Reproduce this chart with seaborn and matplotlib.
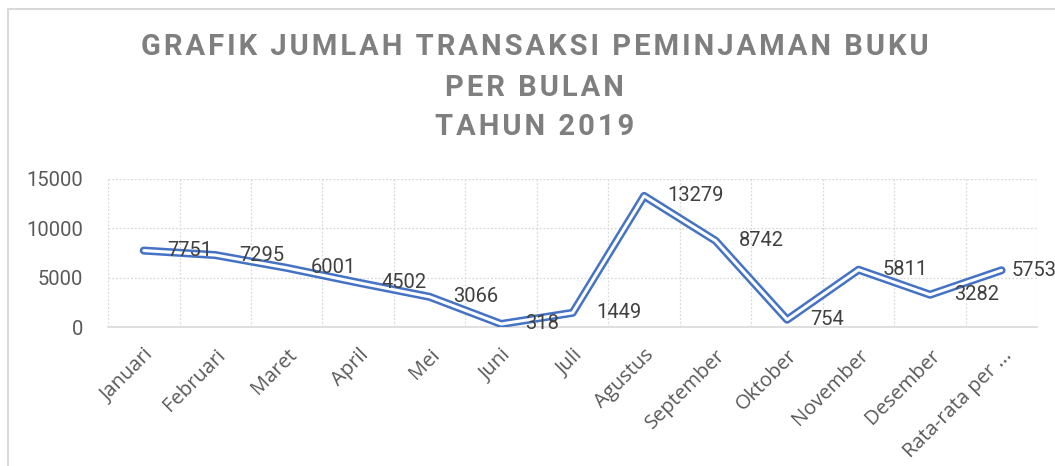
import pandas as pd
import matplotlib.pyplot as plt
import seaborn as sns
from matplotlib.patches import Rectangle
from matplotlib.ticker import FixedLocator

# Data
bulan = ["Januari", "Februari", "Maret", "April", "Mei", "Juni", "Juli",
         "Agustus", "September", "Oktober", "November", "Desember", "Rata-rata per ..."]
transaksi = [7751, 7295, 6001, 4502, 3066, 318, 1449, 13279, 8742, 754, 5811, 3282, 5753]
judul = ["GRAFIK JUMLAH TRANSAKSI PEMINJAMAN BUKU", "PER BULAN", "TAHUN 2019"]

df = pd.DataFrame({"bulan": bulan, "transaksi": transaksi})
df["pos"] = range(len(df))

sns.set_style("white")
plt.rcParams["font.family"] = ["Roboto", "DejaVu Sans"]

fig = plt.figure(figsize=(10.55, 4.66), dpi=100)
ax = fig.add_axes([0.1024, 0.298, 0.8808, 0.318])

# double line: thick blue with white core
sns.lineplot(x="pos", y="transaksi", data=df, ax=ax, color="#4472C4",
             linewidth=5.8, sort=False, zorder=3)
sns.lineplot(x="pos", y="transaksi", data=df, ax=ax, color="white",
             linewidth=2.2, sort=False, zorder=4)

for i, v in enumerate(transaksi):
    dx = 7 if i == len(transaksi) - 1 else 17  # last label pushed inside the chart
    ax.annotate(str(v), (i, v), xytext=(dx, 0), textcoords="offset points",
                ha="left", va="center", fontsize=14.5, color="#404040", zorder=5)

ax.set_xlim(-0.5, len(bulan) - 0.5)
ax.set_ylim(0, 15000)
ax.set_yticks([0, 5000, 10000, 15000])
ax.set_xticks(range(len(bulan)))
ax.set_xticklabels(bulan, rotation=45, ha="right", rotation_mode="anchor",
                   fontsize=14.5, color="#595959", family=["Open Sans", "DejaVu Sans"])
ax.tick_params(axis="y", labelsize=14.5, labelcolor="#595959", pad=18, length=0)
ax.tick_params(axis="x", pad=13, length=0)
ax.xaxis.set_minor_locator(FixedLocator([i - 0.5 for i in range(len(bulan) + 1)]))
ax.grid(which="minor", axis="x", color="#d9d9d9", linestyle=(0, (1.5, 1.5)), linewidth=0.9)
ax.grid(which="major", axis="y", color="#d9d9d9", linestyle=(0, (1.5, 1.5)), linewidth=0.9)
ax.tick_params(which="minor", length=0)
ax.set_xlabel("")
ax.set_ylabel("")
for s in ["top", "right", "left"]:
    ax.spines[s].set_visible(False)
ax.spines["bottom"].set_color("#d9d9d9")
ax.spines["bottom"].set_linewidth(1.2)

# title, letters spread with hair spaces
for txt, y in zip(judul, [0.899, 0.811, 0.727]):
    fig.text(0.507, y, "\u200a".join(txt), ha="center", va="center", fontsize=21,
             fontweight="bold", color="#7f7f7f")

# chart frame (left and top edge visible)
fig.patches.append(Rectangle((8 / 1055, -0.1), 1.2, 1.1 - 9 / 466,
                             transform=fig.transFigure, fill=False,
                             edgecolor="#d9d9d9", linewidth=1.5, zorder=0))

fig.savefig("out.png", dpi=100)
